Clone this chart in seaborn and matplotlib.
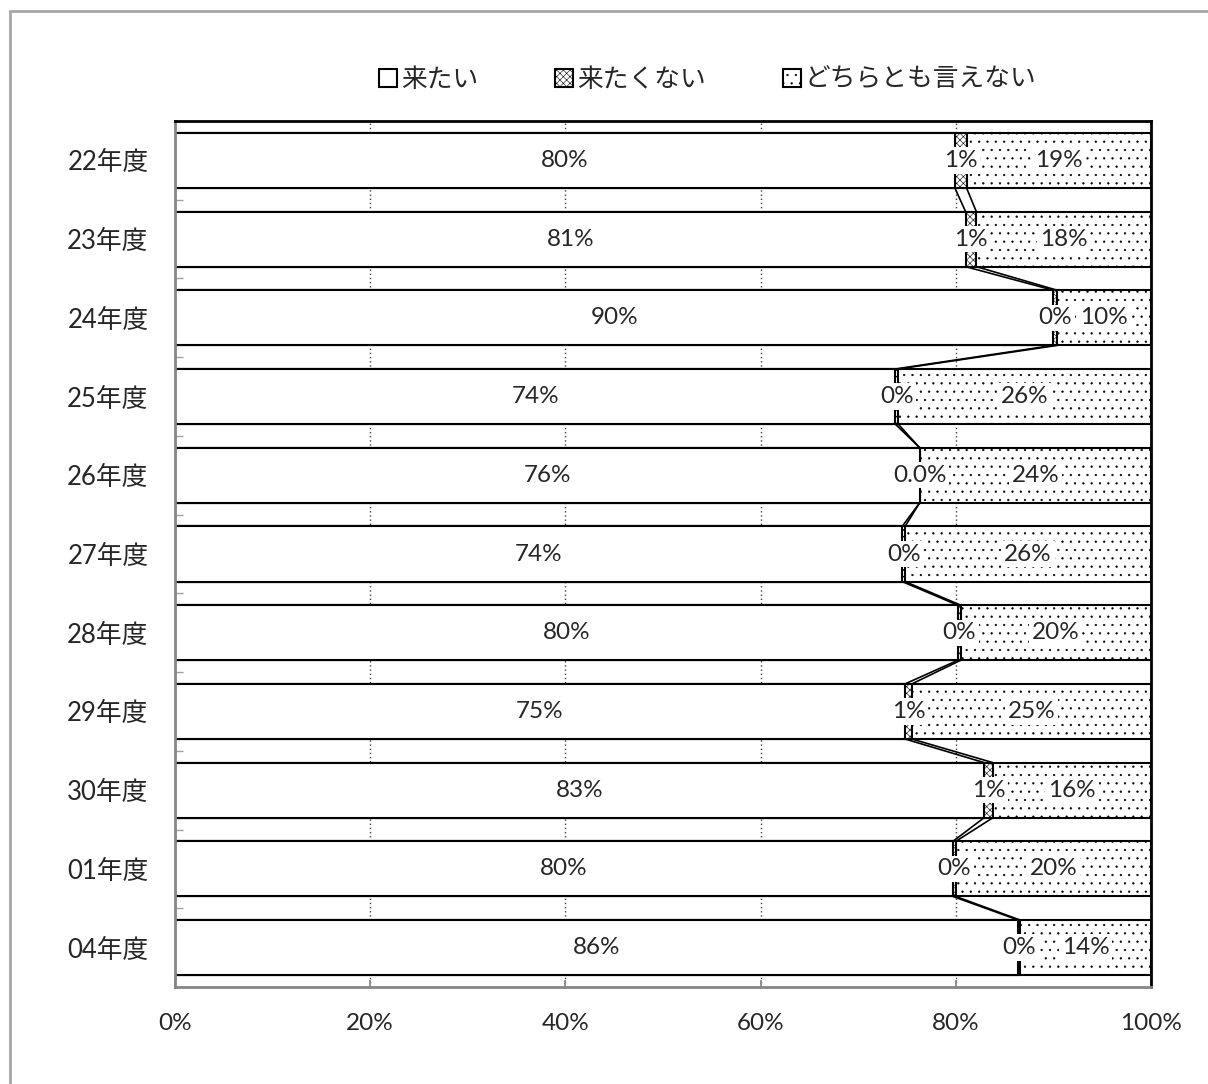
import matplotlib
matplotlib.use("Agg")
import matplotlib.pyplot as plt
from matplotlib.patches import Patch, Rectangle
import seaborn as sns
import numpy as np
import pandas as pd

# Data
years = ["22年度", "23年度", "24年度", "25年度", "26年度", "27年度",
         "28年度", "29年度", "30年度", "01年度", "04年度"]
series_names = ["来たい", "来たくない", "どちらとも言えない"]

want = [79.9, 81.0, 90.0, 73.8, 76.3, 74.5, 80.2, 74.8, 82.9, 79.7, 86.4]
not_want = [1.2, 1.1, 0.4, 0.3, 0.0, 0.3, 0.3, 0.7, 0.9, 0.3, 0.2]
neither = [18.9, 17.9, 9.6, 25.9, 23.7, 25.2, 19.5, 24.5, 16.2, 20.0, 13.4]

want_labels = ["80%", "81%", "90%", "74%", "76%", "74%", "80%", "75%", "83%", "80%", "86%"]
not_labels = ["1%", "1%", "0%", "0%", "0.0%", "0%", "0%", "1%", "1%", "0%", "0%"]
neither_labels = ["19%", "18%", "10%", "26%", "24%", "26%", "20%", "25%", "16%", "20%", "14%"]

xticks = [0, 20, 40, 60, 80, 100]
xtick_labels = ["0%", "20%", "40%", "60%", "80%", "100%"]

df = pd.DataFrame({
    "year": years,
    "want": want,
    "not_want": not_want,
    "neither": neither,
})
df["cum1"] = df["want"]
df["cum2"] = df["want"] + df["not_want"]
df["cum3"] = df["cum2"] + df["neither"]

sns.set_theme(style="white")
plt.rcParams["font.family"] = ["Lato", "Noto Sans CJK JP", "DejaVu Sans"]
plt.rcParams["hatch.linewidth"] = 0.4

fig = plt.figure(figsize=(12.08, 10.84), dpi=100)
ax = fig.add_axes([175 / 1208, 1 - 987 / 1084, 976 / 1208, 866 / 1084])

bar_w = 0.70
fs = 17.5     # numbers
fs_jp = 18.5  # japanese labels

# stacked bars drawn as cumulative layers, back to front
sns.barplot(data=df, x="cum3", y="year", orient="h", width=bar_w,
            color="white", saturation=1, edgecolor="black",
            linewidth=1.5, hatch="..", ax=ax, zorder=2)
sns.barplot(data=df, x="cum2", y="year", orient="h", width=bar_w,
            color="white", saturation=1, edgecolor="black",
            linewidth=1.5, hatch="xxxxx", ax=ax, zorder=3)
sns.barplot(data=df, x="cum1", y="year", orient="h", width=bar_w,
            color="white", saturation=1, edgecolor="black",
            linewidth=1.5, ax=ax, zorder=4)

# series lines between bars
n = len(years)
for col in ["cum1", "cum2"]:
    vals = df[col].values
    for i in range(n - 1):
        ax.plot([vals[i], vals[i + 1]],
                [i + bar_w / 2, i + 1 - bar_w / 2],
                color="black", lw=1.2, zorder=5, solid_capstyle="butt")

# data labels
box = dict(facecolor="white", edgecolor="none", pad=2)
for i in range(n):
    c_w = df["want"][i] / 2
    c_n = df["cum1"][i] + df["not_want"][i] / 2
    c_d = df["cum2"][i] + df["neither"][i] / 2
    ax.text(c_w, i, want_labels[i], ha="center", va="center",
            fontsize=fs, zorder=6)
    ax.text(c_n, i, not_labels[i], ha="center", va="center",
            fontsize=fs, zorder=6, bbox=box)
    ax.text(c_d, i, neither_labels[i], ha="center", va="center",
            fontsize=fs, zorder=6, bbox=box)

# axes
ax.set_xlim(0, 100)
ax.set_ylim(n - 0.5, -0.5)
ax.set_xticks(xticks)
ax.set_xticklabels(xtick_labels, fontsize=fs)
ax.set_xlabel("")
ax.set_ylabel("")
ax.tick_params(axis="y", labelsize=fs_jp, length=0, pad=19)
ax.tick_params(axis="x", direction="in", length=5, color="#868686",
               pad=19, bottom=True)
ax.set_yticks(np.arange(n) + 0.5, minor=True)
ax.tick_params(axis="y", which="minor", direction="in", length=6,
               color="#a0a0a0", left=True)

ax.set_axisbelow(True)
ax.grid(axis="x", linestyle=(0, (1, 2)), color="#404040", lw=1.0, zorder=0)
ax.grid(axis="y", visible=False)

ax.spines["left"].set_color("#868686")
ax.spines["left"].set_linewidth(2)
ax.spines["bottom"].set_color("#868686")
ax.spines["bottom"].set_linewidth(2)
ax.spines["top"].set_color("black")
ax.spines["top"].set_linewidth(2)
ax.spines["right"].set_color("black")
ax.spines["right"].set_linewidth(2)
for s in ax.spines.values():
    s.set_zorder(7)

# legend
handles = [
    Patch(facecolor="white", edgecolor="black", lw=1.5),
    Patch(facecolor="white", edgecolor="black", lw=1.5, hatch="xxxxx"),
    Patch(facecolor="white", edgecolor="black", lw=1.5, hatch=".."),
]
fig.legend(handles, series_names, loc="center", bbox_to_anchor=(0.586, 0.927),
           ncol=3, frameon=False, fontsize=fs_jp, handlelength=0.7,
           handleheight=0.7, handletextpad=0.15, columnspacing=3.0)

# outer frame
fig.patches.append(Rectangle((10 / 1208, -0.05), 1.2, 1 - 11 / 1084 + 0.05,
                             transform=fig.transFigure, fill=False,
                             edgecolor="#a6a6a6", lw=2))

fig.savefig("out.png", dpi=100)
